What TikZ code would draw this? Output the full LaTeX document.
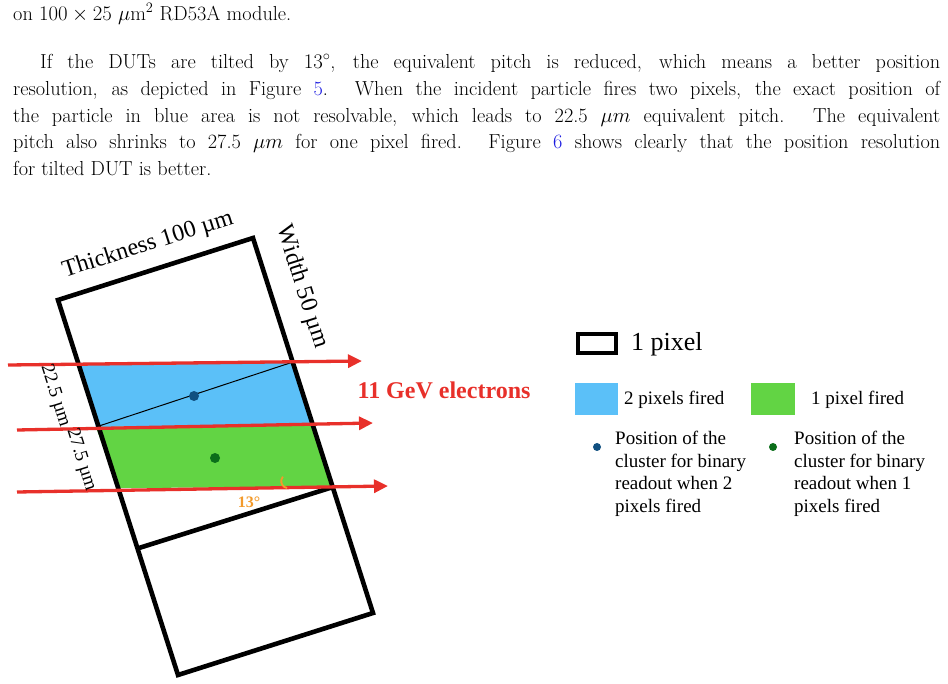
\documentclass[tikz,border=0pt]{standalone}
\usepackage{fontspec}
\newfontfamily\tnr{Liberation Serif}
\usetikzlibrary{arrows.meta}
\definecolor{pixblue}{HTML}{5BC0F8}
\definecolor{pixgreen}{HTML}{62D444}
\definecolor{dotblue}{HTML}{105080}
\definecolor{dotgreen}{HTML}{0B6E1A}
\definecolor{beamred}{HTML}{E8302A}
\definecolor{angorange}{HTML}{F39A2B}
\definecolor{linkblue}{HTML}{1A1AE0}
\tikzset{
  beam/.style={beamred,line width=3.3pt,-{Triangle[length=14pt,width=13pt]}},
  pixel/.style={line width=4.6pt,line join=miter},
  lbl/.style={font=\tnr\fontsize{19}{22}\selectfont,inner sep=0pt},
  dot/.style={circle,inner sep=0pt,minimum size=10pt},
}
\begin{document}
\begin{tikzpicture}[x=1pt,y=-1pt]
\useasboundingbox (0,0) rectangle (948,684);
% page text
\node[anchor=west,inner sep=0pt,font=\fontsize{20.3}{27}\selectfont] (head) at (13,14)
  {on $100\times25$ $\mu$m$^2$ RD53A module.};
\node[anchor=north west,inner sep=0pt,text width=927pt,align=justify,
  font=\fontsize{20.3}{26.8}\selectfont] (para) at (13,54)
  {\parindent=27pt\indent If the DUTs are tilted by $13^\circ$, the equivalent pitch is reduced, which means a better position\linebreak
  resolution, as depicted in Figure {\color{linkblue}5}. When the incident particle fires two pixels, the exact position of\linebreak
  the particle in blue area is not resolvable, which leads to 22.5 $\mu m$ equivalent pitch. The equivalent\linebreak
  pitch also shrinks to 27.5 $\mu m$ for one pixel fired. Figure {\color{linkblue}6} shows clearly that the position resolution\linebreak
  for tilted DUT is better.\par};
% sensor corners
\coordinate (tl) at (58,300);
\coordinate (tr) at (253,238);
\coordinate (br) at (373,613);
\coordinate (bl) at (178,675);
\coordinate (ml) at (139,548);
\coordinate (mr) at (333,487);
\coordinate (b1) at (78,363);
\coordinate (b2) at (293,362);
\coordinate (b3) at (313,424);
\coordinate (b4) at (96,427);
\coordinate (g3) at (333,487);
\coordinate (g4) at (117,488);
% fired regions
\fill[pixblue] (b1) -- (b2) -- (b3) -- (b4) -- cycle;
\fill[pixgreen] (b4) -- (b3) -- (g3) -- (g4) -- cycle;
\draw[line width=1pt] (b4) -- (b2);
\draw[pixel] (tl) -- (tr) -- (br) -- (bl) -- cycle;
\draw[pixel] (ml) -- (mr);
\node[dot,fill=dotblue] (c2) at (194,396) {};
\node[dot,fill=dotgreen] (c1) at (215,458) {};
% beams
\coordinate (s1) at (8,365);
\coordinate (e1) at (362,361);
\coordinate (s2) at (17,430);
\coordinate (e2) at (373,423);
\coordinate (s3) at (17,492);
\coordinate (e3) at (388,486);
\draw[beam] (s1) -- (e1);
\draw[beam] (s2) -- (e2);
\draw[beam] (s3) -- (e3);
% labels
\node[lbl,rotate=17.6,font=\tnr\fontsize{24}{26}\selectfont] (thick) at (148,245) {Thickness 100 µm};
\node[lbl,rotate=-72.4,font=\tnr\fontsize{24}{26}\selectfont] (wid) at (302,287) {Width 50 µm};
\node[lbl,rotate=-72.4,font=\tnr\fontsize{19}{21}\selectfont] (p22) at (55,396) {22.5 µm};
\node[lbl,rotate=-72.4,font=\tnr\fontsize{19}{21}\selectfont] (p27) at (81,460) {27.5 µm};
\node[lbl,text=angorange,font=\tnr\bfseries\fontsize{16}{18}\selectfont] (ang) at (249,502) {13°};
\draw[angorange,line width=1.8pt] (287,488) arc[start angle=100,end angle=220,radius=7];
\node[lbl,text=beamred,font=\tnr\bfseries\fontsize{24}{26}\selectfont] (elec) at (444,390) {11 GeV electrons};
% legend
\draw[line width=4pt] (578,334) rectangle (616,353);
\node[lbl,anchor=west,font=\tnr\fontsize{26}{28}\selectfont] (l1) at (631,344) {1 pixel};
\fill[pixblue] (575,383) rectangle (618,415);
\node[lbl,anchor=west] (l2) at (624,400) {2 pixels fired};
\fill[pixgreen] (751,383) rectangle (795,415);
\node[lbl,anchor=west] (l3) at (811,400) {1 pixel fired};
\node[dot,fill=dotblue,minimum size=8pt] (d2) at (597,447) {};
\node[dot,fill=dotgreen,minimum size=8pt] (d1) at (773,447) {};
\node[lbl,anchor=north west,align=left,font=\tnr\fontsize{19}{22.5}\selectfont] (t2) at (615,431)
  {Position of the\\cluster for binary\\readout when 2\\pixels fired};
\node[lbl,anchor=north west,align=left,font=\tnr\fontsize{19}{22.5}\selectfont] (t1) at (794,431)
  {Position of the\\cluster for binary\\readout when 1\\pixels fired};
\end{tikzpicture}
\end{document}
